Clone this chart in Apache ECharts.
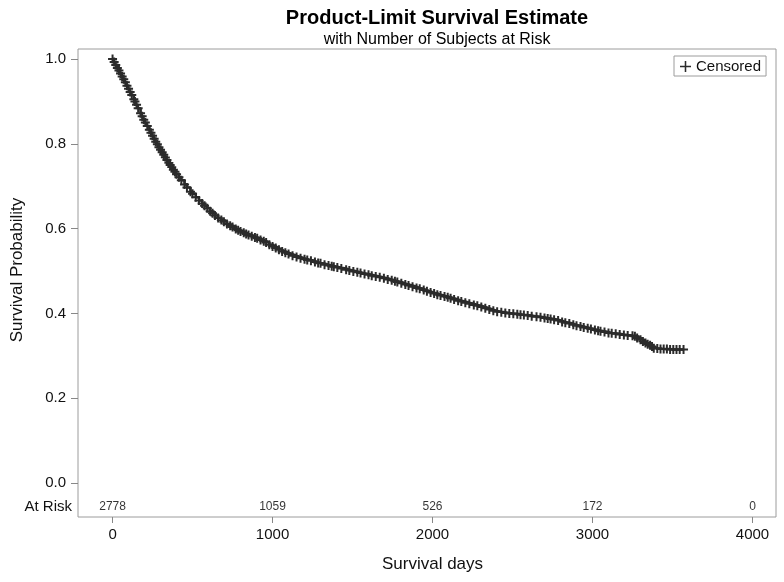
<!DOCTYPE html>
<html>
<head>
<meta charset="utf-8">
<script src="https://cdn.jsdelivr.net/npm/echarts@6/dist/echarts.min.js"></script>
<style>
html,body{margin:0;padding:0;background:#fff;}
#chart{width:784px;height:582px;}
</style>
</head>
<body>
<div id="chart"></div>
<script>
// ---- Data ----
const titleText = 'Product-Limit Survival Estimate';
const subtitleText = 'with Number of Subjects at Risk';
const xAxisName = 'Survival days';
const yAxisName = 'Survival Probability';
const legendName = 'Censored';

const xTicks = [0, 1000, 2000, 3000, 4000];
const yTicks = [0, 0.2, 0.4, 0.6, 0.8, 1.0];

const atRiskTimes = [0, 1000, 2000, 3000, 4000];
const atRiskCounts = [2778, 1059, 526, 172, 0];

// Kaplan-Meier estimate (time in days, survival probability), censored marks at each point
const survTime = [
  0,10,20,30,40,50,60,70,80,90,100,110,120,133,140,150,160,175,185,195,205,217,230,240,250,260,270,280,290,300,
  310,320,330,340,352,360,370,380,390,400,415,430,450,465,487,500,520,540,560,575,592,610,625,640,660,680,696,715,735,750,
  770,785,800,820,835,850,870,890,904,925,945,960,980,1000,1020,1040,1060,1080,1100,1125,1150,1175,1200,1217,1240,1265,1285,1300,1325,1350,
  1370,1383,1405,1430,1460,1480,1505,1530,1550,1575,1600,1620,1645,1670,1696,1720,1745,1765,1780,1805,1830,1850,1875,1900,1920,1945,1965,1988,2010,2030,
  2050,2075,2095,2113,2135,2160,2180,2205,2230,2258,2280,2305,2330,2355,2380,2404,2430,2455,2480,2505,2530,2550,2571,2595,2620,2650,2675,2700,2720,2738,
  2760,2785,2810,2830,2855,2880,2900,2925,2945,2970,2990,3015,3035,3050,3075,3100,3120,3145,3170,3196,3220,3250,3265,3279,3300,3315,3331,3345,3360,3372,
  3383,3405,3425,3445,3465,3485,3505,3525,3545,3569
];
const survProb = [
  1.000,0.993,0.986,0.979,0.973,0.966,0.959,0.952,0.945,0.937,0.930,0.922,0.915,0.905,0.900,0.892,0.884,0.872,0.865,0.857,0.850,0.842,0.833,0.826,0.819,0.812,0.805,0.799,0.792,0.786,
  0.780,0.774,0.768,0.762,0.755,0.750,0.745,0.739,0.734,0.728,0.721,0.714,0.704,0.697,0.687,0.682,0.674,0.666,0.659,0.654,0.648,0.641,0.636,0.631,0.625,0.620,0.616,0.611,0.607,0.604,
  0.599,0.596,0.593,0.590,0.587,0.585,0.582,0.579,0.577,0.573,0.570,0.567,0.562,0.558,0.554,0.550,0.546,0.543,0.540,0.536,0.533,0.530,0.528,0.526,0.524,0.521,0.519,0.518,0.515,0.513,
  0.511,0.510,0.508,0.506,0.503,0.501,0.499,0.497,0.495,0.493,0.491,0.489,0.487,0.485,0.483,0.480,0.478,0.476,0.474,0.471,0.468,0.466,0.463,0.460,0.458,0.455,0.452,0.449,0.447,0.444,
  0.442,0.440,0.438,0.436,0.433,0.430,0.428,0.425,0.423,0.420,0.418,0.415,0.412,0.409,0.406,0.404,0.403,0.401,0.400,0.399,0.398,0.397,0.396,0.395,0.393,0.392,0.391,0.389,0.388,0.387,
  0.385,0.383,0.380,0.378,0.376,0.373,0.371,0.369,0.367,0.365,0.363,0.361,0.359,0.358,0.356,0.354,0.353,0.352,0.350,0.349,0.348,0.347,0.346,0.342,0.338,0.334,0.330,0.327,0.325,0.322,
  0.318,0.317,0.316,0.316,0.316,0.315,0.315,0.315,0.315,0.315
];

// ---- Styling ----
const ink = '#2b2b2b';
const frameColor = '#9c9c9c';
const textColor = '#111';
const plusPath = 'path://M3.9,0H6.1V3.9H10V6.1H6.1V10H3.9V6.1H0V3.9H3.9Z';
const atRiskRowY = -0.0566;

const curveData = survTime.map((t, i) => [t, survProb[i]]);
const atRiskData = atRiskTimes.map((t, i) => [t, atRiskRowY, atRiskCounts[i]]);

const chart = echarts.init(document.getElementById('chart'), null, {renderer: 'canvas'});
chart.setOption({
  animation: false,
  backgroundColor: '#fff',
  textStyle: {fontFamily: '"Liberation Sans", Arial, sans-serif'},
  title: {
    text: titleText,
    subtext: subtitleText,
    left: 432,
    textAlign: 'center',
    top: 3,
    itemGap: 4,
    textStyle: {fontSize: 20, fontWeight: 'bold', color: '#000'},
    subtextStyle: {fontSize: 16, color: '#000'}
  },
  legend: {
    data: [legendName],
    left: 674,
    top: 56,
    orient: 'horizontal',
    icon: 'path://M4.3,0H5.7V4.3H10V5.7H5.7V10H4.3V5.7H0V4.3H4.3Z',
    itemWidth: 11,
    itemHeight: 11,
    itemGap: 5,
    padding: [3, 5, 2, 6],
    borderColor: frameColor,
    borderWidth: 1,
    textStyle: {fontSize: 15, color: textColor}
  },
  grid: {
    left: 78, right: 8, top: 49, bottom: 65,
    show: true, borderColor: frameColor, borderWidth: 1,
    backgroundColor: 'transparent', containLabel: false
  },
  xAxis: {
    type: 'value',
    min: -216, max: 4147,
    name: xAxisName,
    nameLocation: 'middle',
    nameGap: 39,
    nameTextStyle: {fontSize: 17, color: textColor, padding: [0, 0, 0, 11]},
    axisLine: {show: false, onZero: false},
    splitLine: {show: false},
    axisTick: {show: true, customValues: xTicks, length: 6, lineStyle: {color: '#888'}},
    axisLabel: {customValues: xTicks, fontSize: 15, color: textColor, margin: 10,
      formatter: v => String(v)}
  },
  yAxis: {
    type: 'value',
    min: -0.0802, max: 1.0236,
    name: yAxisName,
    nameLocation: 'middle',
    nameGap: 52,
    nameTextStyle: {fontSize: 17, color: textColor, padding: [0, 0, 0, 26]},
    axisLine: {show: false, onZero: false},
    splitLine: {show: false},
    axisTick: {show: true, customValues: yTicks, length: 7, lineStyle: {color: '#888'}},
    axisLabel: {customValues: yTicks, fontSize: 15, color: textColor, margin: 12,
      formatter: v => v.toFixed(1)}
  },
  graphic: [{
    type: 'text',
    right: 784 - 72,
    top: 499,
    style: {text: 'At Risk', fontSize: 15, fill: textColor, fontFamily: '"Liberation Sans", Arial, sans-serif'}
  }],
  series: [
    {
      name: legendName,
      type: 'line',
      step: 'end',
      data: curveData,
      symbol: plusPath,
      symbolSize: 9,
      showSymbol: true,
      showAllSymbol: true,
      itemStyle: {color: ink},
      lineStyle: {color: ink, width: 2.5},
      emphasis: {disabled: true},
      z: 3
    },
    {
      name: 'atrisk',
      type: 'scatter',
      data: atRiskData,
      symbolSize: 0,
      silent: true,
      label: {show: true, position: 'inside', fontSize: 12, color: '#000',
        formatter: p => String(p.value[2])}
    }
  ]
});
</script>
</body>
</html>
